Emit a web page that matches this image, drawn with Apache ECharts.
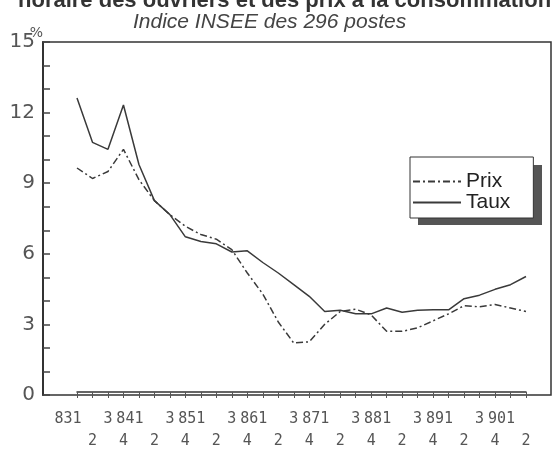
<!DOCTYPE html>
<html>
<head>
<meta charset="utf-8">
<script src="https://cdn.jsdelivr.net/npm/echarts@6/dist/echarts.min.js"></script>
<style>
    html, body { margin: 0; padding: 0; background: #fff; }
    #chart { width: 553px; height: 452px; }
</style>
</head>
<body>
<div id="chart"></div>
<script>
// quarters 83 Q1 .. 90 Q2
const quarters = [
    '83-1', '83-2', '83-3', '83-4', '84-1', '84-2', '84-3', '84-4',
    '85-1', '85-2', '85-3', '85-4', '86-1', '86-2', '86-3', '86-4',
    '87-1', '87-2', '87-3', '87-4', '88-1', '88-2', '88-3', '88-4',
    '89-1', '89-2', '89-3', '89-4', '90-1', '90-2'
];
// tick labels as printed under the axis
const xTickLabels = [
    '831', '2', '3', '4', '841', '2', '3', '4',
    '851', '2', '3', '4', '861', '2', '3', '4',
    '871', '2', '3', '4', '881', '2', '3', '4',
    '891', '2', '3', '4', '901', '2'
];
const yTickLabels = [0, 3, 6, 9, 12, 15];

const prix = [9.6, 9.15, 9.45, 10.4, 9.1, 8.2, 7.6, 7.1, 6.75, 6.55,
              6.1, 5.1, 4.2, 3.0, 2.1, 2.15, 2.9, 3.45, 3.55, 3.3,
              2.6, 2.6, 2.75, 3.05, 3.35, 3.7, 3.65, 3.75, 3.6, 3.45];
const taux = [12.6, 10.7, 10.4, 12.3, 9.75, 8.2, 7.6, 6.65, 6.45, 6.35,
              6.0, 6.05, 5.55, 5.1, 4.6, 4.1, 3.45, 3.5, 3.35, 3.35,
              3.6, 3.42, 3.5, 3.52, 3.52, 4.0, 4.15, 4.4, 4.6, 4.95];

const ink = '#3a3a3a';

const chart = echarts.init(document.getElementById('chart'));

const option = {
    backgroundColor: '#fff',
    animation: false,
    title: [{
        text: 'horaire des ouvriers et des prix à la consommation',
        left: 13,
        top: -15,
        textStyle: { fontFamily: 'Liberation Sans', fontSize: 22, fontWeight: 'bold', color: '#333' }
    }, {
        text: 'Indice INSEE des 296 postes',
        left: 128,
        top: 7,
        textStyle: { fontFamily: 'Liberation Sans', fontSize: 21, fontStyle: 'italic', fontWeight: 'normal', color: '#444' }
    }],
    // shadow behind the legend box
    graphic: [{
        type: 'rect',
        left: 418,
        top: 165,
        z: 1,
        shape: { width: 124, height: 60 },
        style: { fill: '#555' }
    }],
    legend: {
        orient: 'vertical',
        left: 410,
        top: 157,
        z: 5,
        padding: [14, 23, 5, 2],
        itemGap: 0,
        itemWidth: 48,
        itemHeight: 14,
        backgroundColor: '#fff',
        borderColor: '#333',
        borderWidth: 1,
        itemStyle: { color: 'rgba(0,0,0,0)', borderWidth: 0 },
        textStyle: { fontFamily: 'Liberation Sans', fontSize: 21, lineHeight: 18, color: '#222' },
        data: ['Prix', 'Taux']
    },
    grid: [{
        // frame
        left: 43, top: 42, width: 508, height: 353,
        show: true, borderColor: '#333', borderWidth: 1.5
    }, {
        // data area, first and last quarter
        left: 77, top: 42, width: 449, height: 353
    }],
    xAxis: [{
        gridIndex: 0,
        type: 'value',
        min: 0, max: 1,
        show: false
    }, {
        gridIndex: 1,
        type: 'category',
        data: quarters,
        boundaryGap: false,
        axisLine: { lineStyle: { color: '#333', width: 1.5 } },
        axisTick: { interval: 0, length: 6, lineStyle: { color: '#555' } },
        axisLabel: {
            interval: 0,
            margin: 16,
            lineHeight: 22,
            fontFamily: 'DejaVu Sans Mono',
            fontSize: 15,
            color: '#555',
            formatter: function (value, index) {
                const t = xTickLabels[index];
                if (index % 2 === 1) return '\n' + t;
                return t.length > 1 ? t + '  ' : t;
            }
        }
    }],
    yAxis: [{
        gridIndex: 0,
        type: 'value',
        min: 0, max: 15, interval: 1,
        name: '%',
        nameLocation: 'end',
        nameGap: 9,
        nameMoveOverlap: false,
        nameTextStyle: { fontFamily: 'DejaVu Sans', fontSize: 14, color: '#555', align: 'right', verticalAlign: 'middle' },
        axisLine: { show: true, lineStyle: { color: '#333', width: 2 } },
        axisTick: { show: true, inside: true, length: 7, lineStyle: { color: '#444', width: 1.5 } },
        splitLine: { show: false },
        axisLabel: {
            margin: 8,
            fontFamily: 'DejaVu Sans',
            fontSize: 20,
            color: '#555',
            formatter: function (v) { return yTickLabels.indexOf(v) >= 0 ? String(v) : ''; }
        }
    }, {
        gridIndex: 1,
        type: 'value',
        min: 0, max: 15,
        show: false
    }],
    series: [{
        name: 'Prix',
        type: 'line',
        xAxisIndex: 1,
        yAxisIndex: 1,
        data: prix,
        symbol: 'none',
        lineStyle: { color: ink, width: 1.5, type: [7, 3, 2, 3] },
        itemStyle: { color: ink }
    }, {
        name: 'Taux',
        type: 'line',
        xAxisIndex: 1,
        yAxisIndex: 1,
        data: taux,
        symbol: 'none',
        lineStyle: { color: ink, width: 1.5 },
        itemStyle: { color: ink }
    }]
};

chart.setOption(option);

window.addEventListener('resize', function () {
    chart.resize();
});
</script>
</body>
</html>
